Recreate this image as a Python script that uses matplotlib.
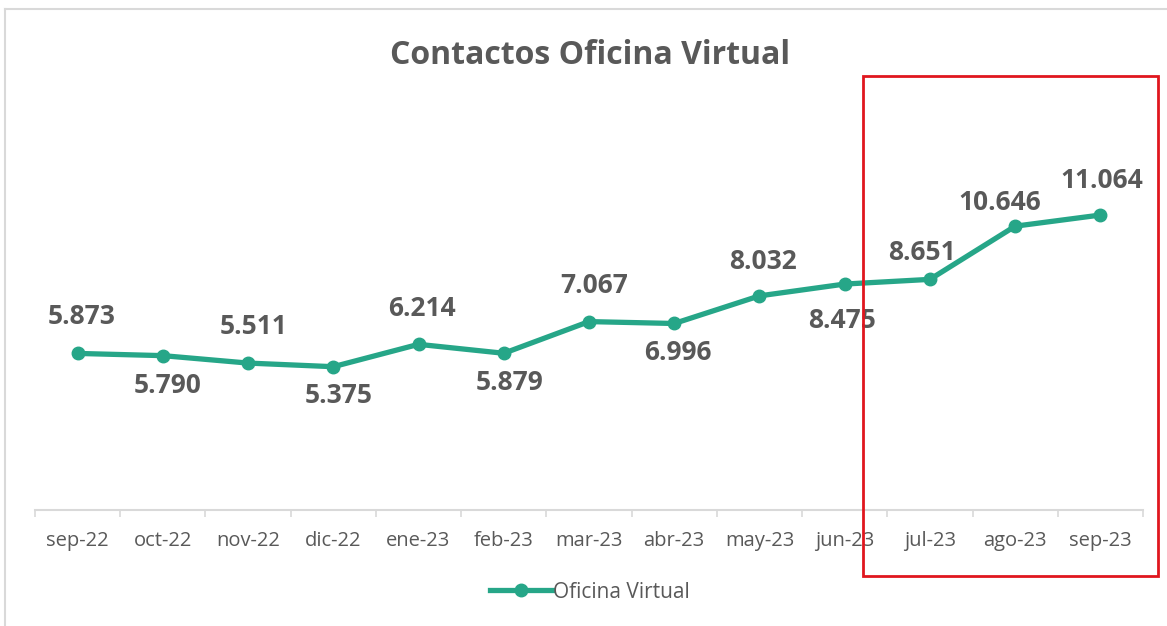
import matplotlib.pyplot as plt
from matplotlib.patches import Rectangle
from matplotlib.lines import Line2D
import numpy as np

meses = ["sep-22", "oct-22", "nov-22", "dic-22", "ene-23", "feb-23", "mar-23",
         "abr-23", "may-23", "jun-23", "jul-23", "ago-23", "sep-23"]
contactos = [5873, 5790, 5511, 5375, 6214, 5879, 7067, 6996, 8032, 8475, 8651, 10646, 11064]
etiquetas = ["5.873", "5.790", "5.511", "5.375", "6.214", "5.879", "7.067",
             "6.996", "8.032", "8.475", "8.651", "10.646", "11.064"]

# desplazamiento de cada etiqueta respecto a su punto (pixeles)
desp = [(4, 37), (5, -30), (5, 37), (5, -29), (3, 36), (6, -29), (5, 36),
        (4, -29), (4, 34), (-3, -36), (-8, 27), (-15, 24), (1, 35)]

gris = "#595959"
verde = "#26A688"
fuente = "Open Sans"

W, H = 1167, 626
fig = plt.figure(figsize=(W / 100, H / 100), dpi=100)

# marco gris del grafico
fig.add_artist(Line2D([5 / W, 1], [1 - 9 / H, 1 - 9 / H], color="#D9D9D9", lw=1.5))
fig.add_artist(Line2D([5 / W, 5 / W], [0, 1 - 9 / H], color="#D9D9D9", lw=1.5))

ax = fig.add_axes([35 / W, 116 / H, (1143 - 35) / W, 412 / H])
x = np.arange(len(meses))
ax.plot(x, contactos, color=verde, lw=3.8, marker="o", ms=9, clip_on=False,
        solid_capstyle="round")
for xi, yi, t, (dx, dy) in zip(x, contactos, etiquetas, desp):
    ax.annotate(t, (xi, yi), xytext=(dx, dy), textcoords="offset pixels",
                ha="center", va="center", fontsize=19, fontweight="bold",
                color=gris, family=fuente)

ax.set_xlim(-0.5, len(meses) - 0.5)
ax.set_ylim(0, 412 / 0.02666)
for s in ["top", "left", "right"]:
    ax.spines[s].set_visible(False)
ax.spines["bottom"].set_color("#D9D9D9")
ax.spines["bottom"].set_linewidth(1.5)
ax.set_yticks([])
ax.set_xticks(np.arange(len(meses) + 1) - 0.5)
ax.set_xticklabels([])
ax.set_xticks(x, minor=True)
ax.set_xticklabels(meses, minor=True, fontsize=14.5, color=gris, family=fuente)
ax.tick_params(axis="x", which="major", length=5, width=1.2, color="#D9D9D9")
ax.tick_params(axis="x", which="minor", length=0, pad=15)

fig.text(590 / W, 1 - 56 / H, "Contactos Oficina Virtual", ha="center", va="center",
         fontsize=23, fontweight="bold", color=gris, family=fuente)

# leyenda
leg = Line2D([0], [0], color=verde, lw=3.8, marker="o", ms=9)
fig.legend([leg], ["Oficina Virtual"], loc="center", bbox_to_anchor=(590 / W, 1 - 592 / H),
           frameon=False, handlelength=3.0, handletextpad=0.05,
           prop={"family": fuente, "size": 15}, labelcolor=gris)

# recuadro rojo sobre los ultimos meses
fig.add_artist(Rectangle((863 / W, 1 - 576 / H), (1158 - 863) / W, (576 - 76) / H,
                         fill=False, edgecolor="#E0161E", lw=2))

fig.savefig("out.png", dpi=100)
